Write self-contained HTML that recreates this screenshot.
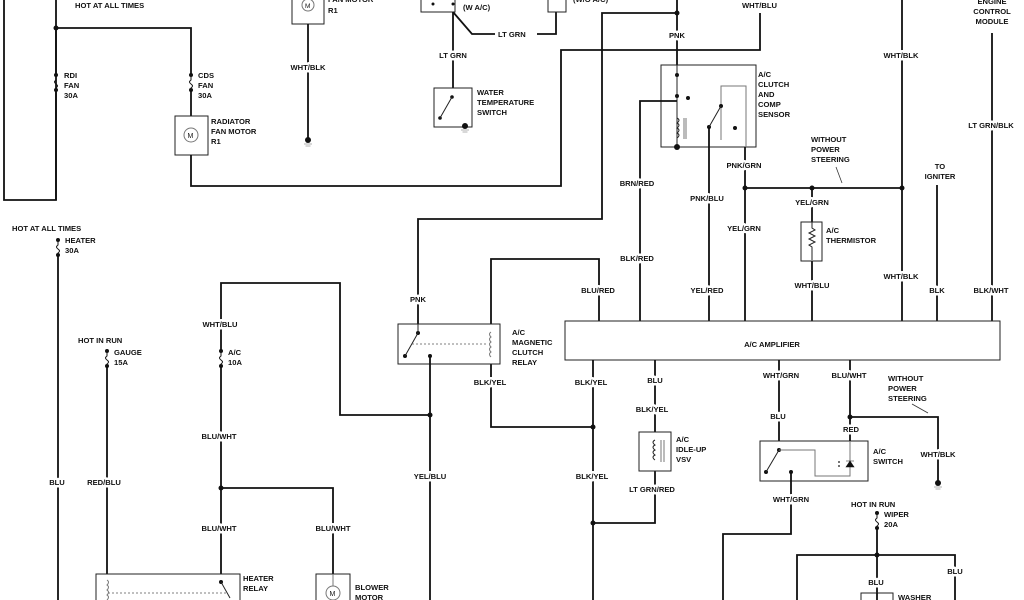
<!DOCTYPE html>
<html><head><meta charset="utf-8"><style>
html,body{margin:0;padding:0;background:#fff;}
svg{display:block;}
text{font-family:"Liberation Sans",sans-serif;font-size:7.6px;font-weight:bold;fill:#111;}
.l{text-anchor:middle;paint-order:stroke;stroke:#fff;stroke-width:5px;stroke-linejoin:round;}
.w{fill:none;stroke:#111;stroke-width:1.8;}
.t{fill:none;stroke:#222;stroke-width:1;}
.g{fill:none;stroke:#777;stroke-width:1;}
.d{fill:none;stroke:#555;stroke-width:0.8;stroke-dasharray:2,2;}
</style></head><body>
<svg width="1024" height="600" viewBox="0 0 1024 600" xmlns="http://www.w3.org/2000/svg">
<defs>
<g id="fuse"><circle cx="0" cy="0" r="2" fill="#111"/><circle cx="0" cy="15" r="2" fill="#111"/><path d="M0,2 v3 q-3,2 0,4 q3,2 0,4 v1" fill="none" stroke="#111" stroke-width="1"/></g>
<g id="gnd"><circle cx="0" cy="0" r="3" fill="#111"/><path d="M-4,4 h8 M-2.5,6 h5" stroke="#999" stroke-width="0.8"/></g>
</defs>

<!-- left frame -->
<path class="w" d="M4,0 V200 H56 V0"/>
<path class="w" d="M56,28 H191 V75"/>
<circle cx="56" cy="28" r="2.5" fill="#111"/>
<path class="w" d="M56,28 V75 M56,90 V200"/>
<use href="#fuse" x="56" y="75"/>
<use href="#fuse" x="191" y="75"/>
<path class="w" d="M191,90 V116"/>
<rect class="t" x="175" y="116" width="33" height="39"/>
<circle class="g" cx="191" cy="135" r="7"/><text x="187.5" y="138" style="font-size:7px;font-weight:normal">M</text>
<path class="w" d="M191,155 V186 H561 V50 H760 V13"/>
<text x="75" y="8">HOT AT ALL TIMES</text>
<text x="64" y="78">RDI</text><text x="64" y="88">FAN</text><text x="64" y="98">30A</text>
<text x="198" y="78">CDS</text><text x="198" y="88">FAN</text><text x="198" y="98">30A</text>
<text x="211" y="124">RADIATOR</text><text x="211" y="134">FAN MOTOR</text><text x="211" y="144">R1</text>

<!-- fan motor top -->
<rect class="t" x="292" y="-5" width="32" height="29"/>
<circle class="g" cx="308" cy="5" r="6"/><text x="305" y="8" style="font-size:6.5px;font-weight:normal">M</text>
<path class="w" d="M308,24 V140"/>
<use href="#gnd" x="308" y="140"/>
<text class="l" x="308" y="70">WHT/BLK</text>
<text x="328" y="2">FAN MOTOR</text><text x="328" y="13">R1</text>

<!-- switch w a/c -->
<rect class="t" x="421" y="-5" width="34" height="17"/>
<circle cx="433" cy="4" r="1.5" fill="#111"/><circle cx="453" cy="4" r="1.5" fill="#111"/>
<text x="463" y="10">(W A/C)</text>
<path class="w" d="M453,12 V88 M453,12 L472,34 H495 M537,34 H556 V12"/>
<text class="l" x="453" y="58">LT GRN</text>
<text x="498" y="37">LT GRN</text>
<rect class="t" x="548" y="-5" width="18" height="17"/>
<text x="573" y="2">(W/O A/C)</text>
<rect class="t" x="434" y="88" width="38" height="39"/>
<circle cx="452" cy="97" r="1.8" fill="#111"/><circle cx="440" cy="118" r="1.8" fill="#111"/><path class="t" d="M452,97 L440,118"/>
<use href="#gnd" x="465" y="126"/>
<text x="477" y="95">WATER</text><text x="477" y="105">TEMPERATURE</text><text x="477" y="115">SWITCH</text>

<!-- PNK lines -->
<path class="w" d="M677,0 V65 M677,13 H602 V219 H418 V325"/>
<circle cx="677" cy="13" r="2.5" fill="#111"/>
<text class="l" x="677" y="38">PNK</text>
<text class="l" x="418" y="302">PNK</text>
<text x="742" y="8" >WHT/BLU</text>

<!-- A/C clutch box -->
<rect class="t" x="661" y="65" width="95" height="82"/>
<path class="t" d="M677,65 V147"/>
<circle cx="677" cy="75" r="2" fill="#111"/><circle cx="677" cy="96" r="2" fill="#111"/><circle cx="688" cy="98" r="2" fill="#111"/>
<circle cx="677" cy="147" r="3" fill="#111"/>
<path d="M677,118 q4,2 0,5 q4,2 0,5 q4,2 0,5 q4,2 0,5" class="t"/>
<path class="g" d="M684,118 V139 M686,118 V139"/>
<path class="g" d="M721,140 V86 H746 V147"/>
<circle cx="721" cy="106" r="2" fill="#111"/><circle cx="709" cy="127" r="2" fill="#111"/><circle cx="735" cy="128" r="2" fill="#111"/><path class="t" d="M721,106 L709,127"/>
<text x="758" y="77">A/C</text><text x="758" y="87">CLUTCH</text><text x="758" y="97">AND</text><text x="758" y="107">COMP</text><text x="758" y="117">SENSOR</text>
<path class="w" d="M677,101 H640 V321"/>
<text class="l" x="637" y="186">BRN/RED</text>
<text class="l" x="637" y="261">BLK/RED</text>
<path class="w" d="M709,127 V321"/>
<text class="l" x="707" y="201">PNK/BLU</text>
<text class="l" x="707" y="293">YEL/RED</text>
<path class="w" d="M745,147 V321 M745,188 H902"/>
<circle cx="745" cy="188" r="2.5" fill="#111"/><circle cx="812" cy="188" r="2.5" fill="#111"/><circle cx="902" cy="188" r="2.5" fill="#111"/>
<text class="l" x="744" y="168">PNK/GRN</text>
<text class="l" x="744" y="231">YEL/GRN</text>
<path class="w" d="M812,188 V321"/>
<text class="l" x="812" y="205">YEL/GRN</text>
<rect x="801" y="222" width="21" height="39" fill="#fff" stroke="#222" stroke-width="1"/>
<path class="t" d="M812,222 v6 l3,2 l-6,3 l6,3 l-6,3 l6,3 l-6,3 l3,2 v13"/>
<text class="l" x="812" y="288">WHT/BLU</text>
<text x="826" y="233">A/C</text><text x="826" y="243">THERMISTOR</text>
<path class="w" d="M902,0 V321"/>
<text class="l" x="901" y="58">WHT/BLK</text>
<text class="l" x="901" y="279">WHT/BLK</text>
<text x="811" y="142">WITHOUT</text><text x="811" y="152">POWER</text><text x="811" y="162">STEERING</text>
<path d="M836,167 L842,183" stroke="#333" stroke-width="0.8"/>
<text x="940" y="169" text-anchor="middle">TO</text><text x="940" y="179" text-anchor="middle">IGNITER</text>
<path class="w" d="M937,185 V321"/>
<text class="l" x="937" y="293">BLK</text>
<text x="992" y="4" text-anchor="middle">ENGINE</text><text x="992" y="14" text-anchor="middle">CONTROL</text><text x="992" y="24" text-anchor="middle">MODULE</text>
<path class="w" d="M992,33 V321"/>
<text class="l" x="991" y="128">LT GRN/BLK</text>
<text class="l" x="991" y="293">BLK/WHT</text>

<!-- BLU/RED loop & magnetic clutch relay -->
<path class="w" d="M491,324 V259 H599 V321"/>
<text class="l" x="598" y="293">BLU/RED</text>
<path class="w" d="M491,364 V427 H593"/>
<text class="l" x="490" y="385">BLK/YEL</text>
<rect x="398" y="324" width="102" height="40" fill="#fff" stroke="#222" stroke-width="1"/>
<circle cx="418" cy="333" r="2" fill="#111"/><circle cx="405" cy="356" r="2" fill="#111"/><circle cx="430" cy="356" r="2" fill="#111"/>
<path class="t" d="M418,333 L405,356 M418,324 V333"/>
<path class="d" d="M412,344 H488"/>
<path d="M491,332 q-3,2 0,5 q-3,2 0,5 q-3,2 0,5 q-3,2 0,5 q-3,2 0,5" class="g"/>
<text x="512" y="335">A/C</text><text x="512" y="345">MAGNETIC</text><text x="512" y="355">CLUTCH</text><text x="512" y="365">RELAY</text>
<path class="w" d="M430,356 V600 M430,415 H340 V283 H221 V351"/>
<circle cx="430" cy="415" r="2.5" fill="#111"/>
<text class="l" x="430" y="479">YEL/BLU</text>

<!-- left bottom -->
<text x="12" y="231">HOT AT ALL TIMES</text>
<use href="#fuse" x="58" y="240"/>
<text x="65" y="243">HEATER</text><text x="65" y="253">30A</text>
<path class="w" d="M58,255 V600"/>
<text class="l" x="57" y="485">BLU</text>
<text x="78" y="343">HOT IN RUN</text>
<use href="#fuse" x="107" y="351"/>
<text x="114" y="355">GAUGE</text><text x="114" y="365">15A</text>
<path class="w" d="M107,366 V574"/>
<text class="l" x="104" y="485">RED/BLU</text>
<text class="l" x="220" y="327">WHT/BLU</text>
<use href="#fuse" x="221" y="351"/>
<text x="228" y="355">A/C</text><text x="228" y="365">10A</text>
<path class="w" d="M221,366 V574 M221,488 H333 V574"/>
<circle cx="221" cy="488" r="2.5" fill="#111"/>
<text class="l" x="219" y="439">BLU/WHT</text>
<text class="l" x="219" y="531">BLU/WHT</text>
<text class="l" x="333" y="531">BLU/WHT</text>
<rect class="t" x="96" y="574" width="144" height="30"/>
<path class="d" d="M108,593 H226"/>
<path d="M107,580 q3,2 0,5 q3,2 0,5 q3,2 0,5 q3,2 0,5" class="g"/>
<circle cx="221" cy="582" r="2" fill="#111"/><path class="t" d="M221,582 L230,598"/>
<text x="243" y="581">HEATER</text><text x="243" y="591">RELAY</text>
<rect class="t" x="316" y="574" width="34" height="30"/>
<circle class="g" cx="333" cy="593" r="7"/><text x="329.5" y="596" style="font-size:7px;font-weight:normal">M</text>
<path class="g" d="M333,574 V586"/>
<text x="355" y="590">BLOWER</text><text x="355" y="600">MOTOR</text>

<!-- amplifier -->
<rect x="565" y="321" width="435" height="39" fill="#fff" stroke="#222" stroke-width="1"/>
<text x="772" y="347" text-anchor="middle">A/C AMPLIFIER</text>

<!-- below amp -->
<path class="w" d="M593,360 V600"/>
<circle cx="593" cy="427" r="2.5" fill="#111"/><circle cx="593" cy="523" r="2.5" fill="#111"/>
<text class="l" x="591" y="385">BLK/YEL</text>
<text class="l" x="592" y="479">BLK/YEL</text>
<path class="w" d="M655,360 V432 M655,471 V523 H593"/>
<text class="l" x="655" y="383">BLU</text>
<text class="l" x="652" y="412">BLK/YEL</text>
<text class="l" x="652" y="492">LT GRN/RED</text>
<rect class="t" x="639" y="432" width="32" height="39"/>
<path d="M655,440 q-4,2 0,5 q-4,2 0,5 q-4,2 0,5 q-4,2 0,5" class="t"/>
<path class="g" d="M661,440 V462 M664,440 V462"/>
<text x="676" y="442">A/C</text><text x="676" y="452">IDLE-UP</text><text x="676" y="462">VSV</text>

<path class="w" d="M779,360 V441"/>
<text class="l" x="781" y="378">WHT/GRN</text>
<text class="l" x="778" y="419">BLU</text>
<rect class="t" x="760" y="441" width="108" height="40"/>
<circle cx="779" cy="450" r="2" fill="#111"/><circle cx="766" cy="472" r="2" fill="#111"/><circle cx="791" cy="472" r="2" fill="#111"/>
<path class="t" d="M779,450 L766,472"/>
<path class="g" d="M779,450 H815 V476 H850 V441"/>
<path d="M846,467 L850,461 L854,467 Z M846,461 H854" fill="#111" stroke="#111" stroke-width="0.6"/>
<circle cx="839" cy="462" r="0.9" fill="#111"/><circle cx="839" cy="466" r="0.9" fill="#111"/>
<text x="873" y="454">A/C</text><text x="873" y="464">SWITCH</text>
<path class="w" d="M791,472 V534 H723 V600"/>
<text class="l" x="791" y="502">WHT/GRN</text>
<path class="w" d="M850,360 V441 M850,417 H938 V483"/>
<circle cx="850" cy="417" r="2.5" fill="#111"/>
<use href="#gnd" x="938" y="483"/>
<text class="l" x="849" y="378">BLU/WHT</text>
<text class="l" x="851" y="432">RED</text>
<text class="l" x="938" y="457">WHT/BLK</text>
<text x="888" y="381">WITHOUT</text><text x="888" y="391">POWER</text><text x="888" y="401">STEERING</text>
<path d="M912,404 L928,413" stroke="#333" stroke-width="0.8"/>

<text x="851" y="507">HOT IN RUN</text>
<use href="#fuse" x="877" y="513"/>
<text x="884" y="517">WIPER</text><text x="884" y="527">20A</text>
<path class="w" d="M877,528 V600 M797,600 V555 H955 V600"/>
<circle cx="877" cy="555" r="2.5" fill="#111"/>
<text class="l" x="876" y="585">BLU</text>
<text class="l" x="955" y="574">BLU</text>
<rect x="861" y="593" width="32" height="12" fill="#fff" stroke="#222" stroke-width="1"/>
<path class="w" d="M877,593 V600"/>
<text x="898" y="600">WASHER</text>
</svg>
</body></html>
